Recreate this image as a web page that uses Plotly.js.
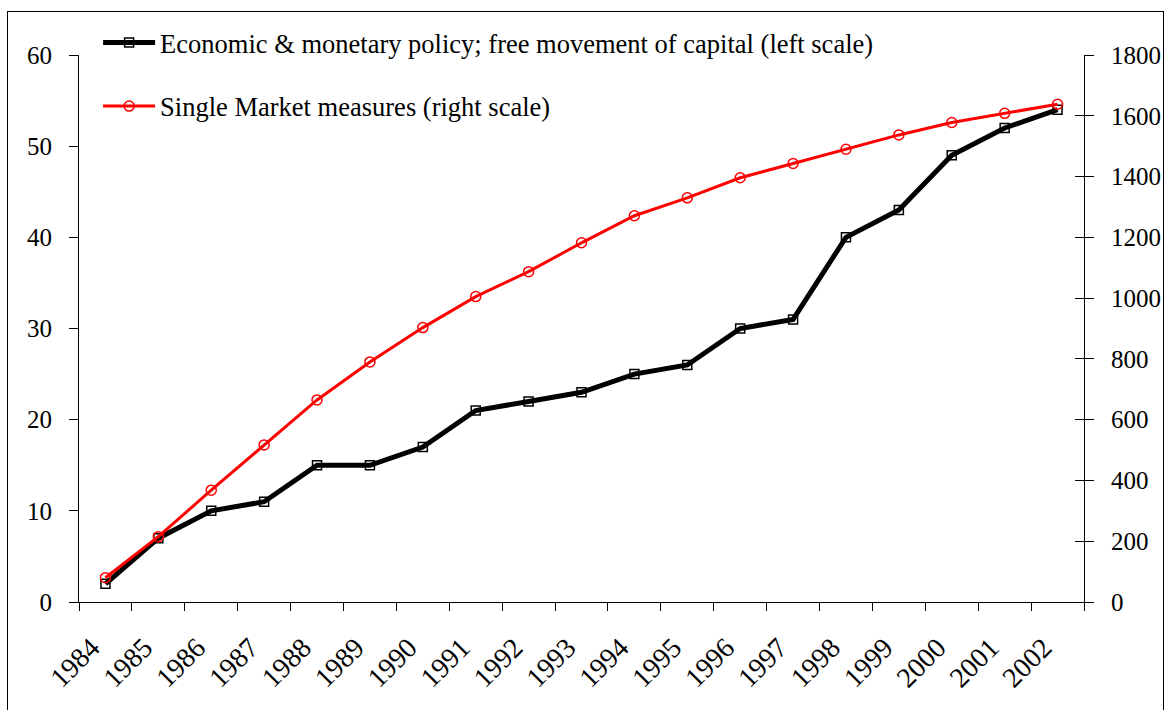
<!DOCTYPE html>
<html>
<head>
<meta charset="utf-8">
<script src="https://cdn.plot.ly/plotly-3.0.1.min.js"></script>
<style>
  body { margin: 0; background: #fff; }
  #wrap { position: relative; width: 1167px; height: 710px; overflow: hidden; }
  #frame { position: absolute; left: 7px; top: 11px; width: 1157px; height: 740px;
           border: 1.5px solid #000; box-sizing: border-box; pointer-events: none; }
</style>
</head>
<body>
<div id="wrap">
  <div id="chart" style="width:1167px;height:710px;"></div>
  <div id="frame"></div>
</div>
<script>
// years on the category axis
var years = ['1984', '1985', '1986', '1987', '1988', '1989', '1990', '1991', '1992', '1993',
             '1994', '1995', '1996', '1997', '1998', '1999', '2000', '2001', '2002'];

// cumulative counts, left scale
var econMonetary = [2, 7, 10, 11, 15, 15, 17, 21, 22, 23, 25, 26, 30, 31, 40, 43, 49, 52, 54];

// cumulative counts, right scale
var singleMarket = [80, 215, 368, 517, 665, 790, 903, 1005, 1087, 1182, 1271, 1330, 1396, 1443,
                    1490, 1537, 1578, 1608, 1638];

var fontFam = '"Liberation Serif", "Times New Roman", serif';

var trace1 = {
  x: years,
  y: econMonetary,
  type: 'scatter',
  mode: 'lines+markers',
  name: 'Economic & monetary policy; free movement of capital (left scale)',
  legendgroup: 'a',
  line: { color: '#000000', width: 5 },
  marker: { symbol: 'square-open', size: 9, color: '#000000', line: { width: 1.5, color: '#000000' } },
  yaxis: 'y',
};

var trace2 = {
  x: years,
  y: singleMarket,
  type: 'scatter',
  mode: 'lines+markers',
  name: 'Single Market measures (right scale)',
  legendgroup: 'b',
  line: { color: '#ff0000', width: 3 },
  marker: { symbol: 'circle-open', size: 10, color: '#ff0000', line: { width: 1.5, color: '#ff0000' } },
  yaxis: 'y2',
};

var layout = {
  width: 1167,
  height: 710,
  margin: { l: 79, r: 83, t: 55, b: 108 },
  paper_bgcolor: '#ffffff',
  plot_bgcolor: '#ffffff',
  font: { family: fontFam, size: 25, color: '#000000' },
  showlegend: true,
  legend: {
    x: 0.019, y: 1.066, xanchor: 'left', yanchor: 'top',
    bgcolor: 'rgba(0,0,0,0)',
    font: { family: fontFam, size: 26.5, color: '#000000' },
    traceorder: 'grouped',
    tracegroupgap: 26,
    itemwidth: 52,
  },
  xaxis: {
    type: 'category',
    range: [-0.5, 18.5],
    showgrid: false,
    zeroline: false,
    showline: true,
    linecolor: '#000000',
    linewidth: 1,
    ticks: 'outside',
    tickson: 'boundaries',
    ticklen: 8,
    tickcolor: '#000000',
    tickangle: -45,
    ticklabelstandoff: 17,
    ticklabelshift: -14,
    tickfont: { family: fontFam, size: 28 },
  },
  yaxis: {
    range: [0, 60],
    dtick: 10,
    showgrid: false,
    zeroline: false,
    showline: true,
    linecolor: '#000000',
    linewidth: 1,
    ticks: 'outside',
    ticklen: 9,
    tickcolor: '#000000',
    ticklabelstandoff: 12,
    tickfont: { family: fontFam, size: 25 },
  },
  yaxis2: {
    range: [0, 1800],
    dtick: 200,
    overlaying: 'y',
    side: 'right',
    showgrid: false,
    zeroline: false,
    showline: true,
    linecolor: '#000000',
    linewidth: 1,
    ticks: 'outside',
    ticklen: 9,
    tickcolor: '#000000',
    ticklabelstandoff: 12,
    tickfont: { family: fontFam, size: 25 },
  },
  // inner half of the right-hand ticks (they cross the axis line)
  yaxis3: {
    range: [0, 1800],
    dtick: 200,
    overlaying: 'y',
    side: 'right',
    showgrid: false,
    zeroline: false,
    showline: false,
    showticklabels: false,
    ticks: 'inside',
    ticklen: 9,
    tickcolor: '#000000',
  },
};

var helper = { x: years, y: singleMarket, yaxis: 'y3', type: 'scatter', mode: 'none',
               showlegend: false, hoverinfo: 'skip' };

Plotly.newPlot('chart', [trace1, trace2, helper], layout, {
  displaylogo: false,
  displayModeBar: false,
  responsive: false,
});
</script>
</body>
</html>
